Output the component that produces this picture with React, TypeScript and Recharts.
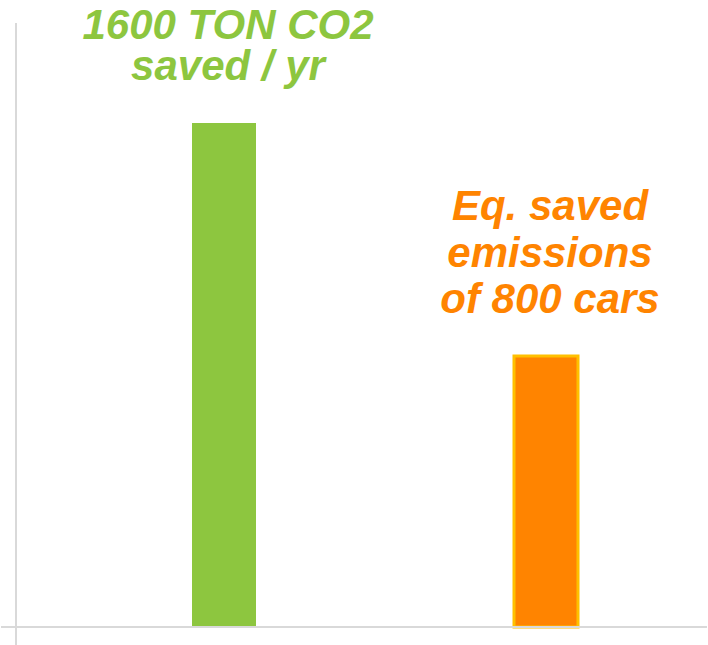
import { BarChart, Bar, XAxis, YAxis, Cell, LabelList, Customized } from "recharts"

const categories = ["CO2", "Cars"]
const values = [1600, 860]
const labelLines = [
  ["1600 TON CO2", "saved / yr"],
  ["Eq. saved", "emissions", "of 800 cars"],
]
const fills = ["#8DC63F", "#FF8400"]
const strokes = ["none", "#FFC000"]
const textColors = ["#8DC63F", "#FF8400"]
const lineGaps = [41, 46.5]

const data = categories.map((name, i) => ({ name, value: values[i], idx: i }))

const W = 708
const H = 645
const TOP = 23
const BOTTOM = 627
const AXIS = "#D9D9D9"

function BarLabel(props: any) {
  const { x, y, width, index } = props
  const lines = labelLines[index]
  const gap = lineGaps[index]
  const cx = x + width / 2 + 4
  const lastBase = y - 43
  return (
    <text
      x={cx}
      textAnchor="middle"
      fill={textColors[index]}
      style={{ fontFamily: "'Liberation Sans', Arial, sans-serif", fontWeight: 700, fontStyle: "italic", fontSize: 42 }}
    >
      {lines.map((l, i) => (
        <tspan key={i} x={cx} y={lastBase - (lines.length - 1 - i) * gap}>
          {l}
        </tspan>
      ))}
    </text>
  )
}

function AxisOverhang() {
  return (
    <g>
      <line x1={1} y1={BOTTOM} x2={16} y2={BOTTOM} stroke={AXIS} strokeWidth={2} />
      <line x1={16} y1={BOTTOM} x2={16} y2={H} stroke={AXIS} strokeWidth={2} />
    </g>
  )
}

export default function App() {
  return (
    <div style={{ position: "absolute", left: 0, top: 0, width: W, height: H, background: "#fff" }}>
      <BarChart width={W} height={H} data={data} margin={{ top: TOP, right: 1, bottom: H - BOTTOM - 1, left: 0 }}>
        <XAxis
          dataKey="name"
          height={1}
          tick={false}
          tickLine={false}
          axisLine={{ stroke: AXIS, strokeWidth: 2 }}
          padding={{ left: 47, right: 0 }}
        />
        <YAxis
          width={16}
          domain={[0, 1917]}
          tick={false}
          tickLine={false}
          axisLine={{ stroke: AXIS, strokeWidth: 2 }}
        />
        <Bar dataKey="value" barSize={64} isAnimationActive={false}>
          {data.map((d, i) => (
            <Cell key={d.name} fill={fills[i]} stroke={strokes[i]} strokeWidth={i === 1 ? 3 : 0} />
          ))}
          <LabelList dataKey="value" content={BarLabel} />
        </Bar>
        <Customized component={AxisOverhang} />
      </BarChart>
    </div>
  )
}
